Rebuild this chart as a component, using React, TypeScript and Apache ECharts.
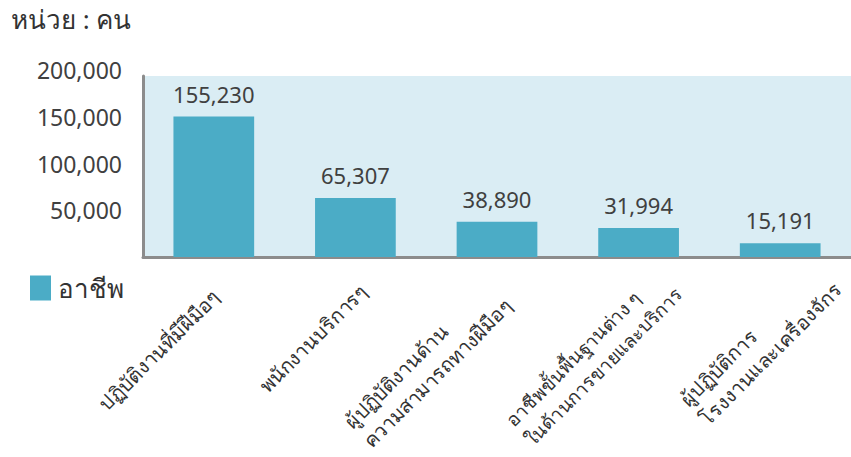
import React, { useEffect, useRef } from "react";
import * as echarts from "echarts";

const categories = [
  "ปฏิบัติงานที่มีฝีมือๆ",
  "พนักงานบริการๆ",
  "ผู้ปฏิบัติงานด้าน\nความสามารถทางฝีมือๆ",
  "อาชีพขั้นพื้นฐานต่าง ๆ\nในด้านการขายและบริการ",
  "ผู้ปฏิบัติการ\nโรงงานและเครื่องจักร",
];
const values = [155230, 65307, 38890, 31994, 15191];
const seriesName = "อาชีพ";
const unitLabel = "หน่วย : คน";
const yTicks = [0, 50000, 100000, 150000, 200000];

// per-label nudges (padding) to follow the reference's label placement
const labelPadding = [
  [6, 0, 0, 0],
  [7, -8, 0, 0],
  [5, 0, 0, 0],
  [30, -30, 0, 0],
  [48, -44, 0, 0],
];
const labelStyleName = ["a", "a", "a", "b", "a"];

const fmt = (n: number) => n.toLocaleString("en-US");

export default function App() {
  const ref = useRef<HTMLDivElement>(null);
  useEffect(() => {
    if (!ref.current) return;
    const chart = echarts.init(ref.current, null, { renderer: "svg" });
    const font = "Noto Sans, sans-serif";
    const yMax = yTicks[yTicks.length - 1];
    const yStep = yTicks[1] - yTicks[0];
    chart.setOption({
      animation: false,
      backgroundColor: "#ffffff",
      textStyle: { fontFamily: font },
      title: {
        text: unitLabel,
        left: 6,
        top: 1,
        textStyle: { fontSize: 26, fontWeight: "normal", color: "#333333", fontFamily: font },
      },
      legend: {
        left: 25,
        top: 270,
        itemWidth: 21,
        itemHeight: 25,
        itemGap: 10,
        textStyle: { fontSize: 26, color: "#333333", fontFamily: font, padding: [0, 0, 0, 2] },
        data: [{ name: seriesName, icon: "rect" }],
      },
      grid: [
        {
          left: 143,
          right: 0,
          top: 76,
          bottom: 457 - 257,
          show: true,
          backgroundColor: "#daedf4",
          borderWidth: 0,
          containLabel: false,
          outerBoundsMode: "none",
        },
        {
          left: 143,
          right: 0,
          top: 70,
          bottom: 457 - 257,
          show: false,
          containLabel: false,
          outerBoundsMode: "none",
        },
      ],
      xAxis: [
        {
          type: "category",
          gridIndex: 0,
          data: categories.map((c, i) => ({
            value: c,
            textStyle: { padding: labelPadding[i] },
          })),
          axisLine: { show: true, lineStyle: { color: "#8c8c8c", width: 3 } },
          axisTick: { show: false },
          axisLabel: {
            interval: 0,
            rotate: 45,
            margin: 34,
            formatter: (v: string, idx: number) =>
              v
                .split("\n")
                .map((s) => `{${labelStyleName[idx] || "a"}|${s}}`)
                .join("\n"),
            rich: {
              a: { fontSize: 20, color: "#333333", lineHeight: 27, align: "left", fontFamily: font },
              b: { fontSize: 19, color: "#333333", lineHeight: 27, align: "left", fontFamily: font },
            },
          },
        },
        {
          type: "category",
          gridIndex: 1,
          data: categories,
          show: false,
        },
      ],
      yAxis: [
        {
          type: "value",
          gridIndex: 0,
          min: 0,
          max: yMax,
          interval: yStep,
          axisLine: { show: true, lineStyle: { color: "#8c8c8c", width: 3 } },
          axisTick: { show: false },
          splitLine: { show: false },
          axisLabel: { show: false },
        },
        {
          type: "value",
          gridIndex: 1,
          min: 0,
          max: yMax,
          interval: yStep,
          axisLine: { show: false },
          axisTick: { show: false },
          splitLine: { show: false },
          axisLabel: {
            showMinLabel: false,
            fontSize: 23,
            color: "#404040",
            margin: 21,
            formatter: (v: number) => fmt(v),
          },
        },
      ],
      series: [
        {
          name: seriesName,
          type: "bar",
          xAxisIndex: 0,
          yAxisIndex: 0,
          data: values,
          barWidth: "57%",
          itemStyle: { color: "#4bacc6" },
          label: {
            show: true,
            position: "top",
            distance: 12,
            fontSize: 22,
            color: "#404040",
            formatter: (p: any) => fmt(p.value),
          },
        },
      ],
    });
    return () => chart.dispose();
  }, []);
  return (
    <div
      ref={ref}
      style={{ position: "fixed", left: 0, top: 0, width: 851, height: 457 }}
    />
  );
}
